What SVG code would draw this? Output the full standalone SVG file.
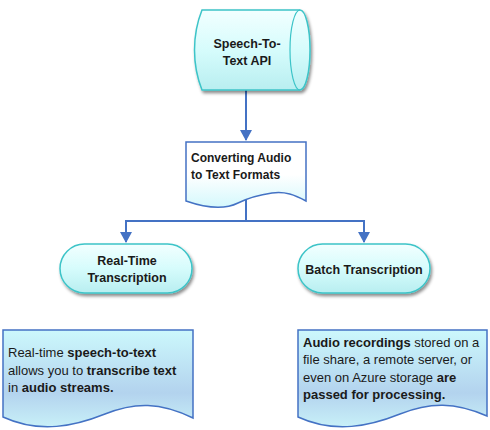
<svg xmlns="http://www.w3.org/2000/svg" width="490" height="430" viewBox="0 0 490 430">
<style>
.t{font-family:"Liberation Sans",Arial,sans-serif;fill:#1a1a1a}
.b{font-weight:bold}
.c{stroke:#4472c4;stroke-width:2;fill:none}
.doc{stroke:#4472c4;stroke-width:1.5}
.pill{fill:url(#gp);stroke:#3cc4c8;stroke-width:1.5}
</style>
<defs>
<linearGradient id="gd" x1="0" y1="0" x2="0" y2="1">
<stop offset="0" stop-color="#ffffff"/><stop offset="0.5" stop-color="#ffffff"/><stop offset="1" stop-color="#d4f8fc"/>
</linearGradient>
<linearGradient id="gb" x1="0" y1="0" x2="0" y2="1">
<stop offset="0" stop-color="#ccf8fc"/><stop offset="0.65" stop-color="#b3d3ee"/><stop offset="1" stop-color="#c8f0f8"/>
</linearGradient>
<linearGradient id="gp" x1="0" y1="0" x2="0" y2="1">
<stop offset="0" stop-color="#f2ffff"/><stop offset="0.5" stop-color="#d6fcfc"/><stop offset="1" stop-color="#b8eef0"/>
</linearGradient>
<filter id="sh" x="-20%" y="-20%" width="140%" height="150%">
<feDropShadow dx="1.5" dy="2.5" stdDeviation="1.5" flood-color="#000" flood-opacity="0.45"/>
</filter>
<marker id="ah" markerWidth="12" markerHeight="12" refX="10" refY="6" orient="auto" markerUnits="userSpaceOnUse">
<path d="M0,0 L11,6 L0,12 Z" fill="#4472c4"/>
</marker>
</defs>
<g id="connectors">
<path class="c" d="M246,90 V140" marker-end="url(#ah)"/>
<path class="c" d="M246,197 V221 H126 V242" marker-end="url(#ah)"/>
<path class="c" d="M246,221 H364 V242" marker-end="url(#ah)"/>
</g>
<g id="api">
<path d="M202,10 H300 A10,40 0 0 1 300,90 H202 C192,65 192,35 202,10 Z" fill="url(#gp)" stroke="#3cc4c8" stroke-width="1.5" filter="url(#sh)"/>
<path d="M300,10 A10,40 0 0 0 300,90" fill="none" stroke="#3cc4c8" stroke-width="1.2"/>
<text class="t b" font-size="12.5" x="247" y="48" text-anchor="middle">Speech-To-</text>
<text class="t b" font-size="12.5" x="247" y="65" text-anchor="middle">Text API</text>
</g>
<g id="convert">
<path class="doc" fill="url(#gd)" d="M186,142 H306 V201 C295,195 285,191 272,193 C258,195 248,198 238,203 C228,208 212,210 186,201 Z"/>
<text class="t b" font-size="12" x="191" y="162">Converting Audio</text>
<text class="t b" font-size="12" x="191" y="179">to Text Formats</text>
</g>
<g id="realtime">
<rect class="pill" x="60" y="244" width="132" height="49" rx="24.5" filter="url(#sh)"/>
<text class="t b" font-size="12.5" x="127" y="265" text-anchor="middle">Real-Time</text>
<text class="t b" font-size="12.5" x="127" y="282" text-anchor="middle">Transcription</text>
</g>
<g id="batch">
<rect class="pill" x="298" y="244" width="132" height="49" rx="24.5" filter="url(#sh)"/>
<text class="t b" font-size="12.5" x="364" y="274" text-anchor="middle">Batch Transcription</text>
</g>
<g id="realtime-desc">
<path class="doc" fill="url(#gb)" d="M3,330 H193 V418 C160,402 135,402 105,414 C75,426 40,434 3,417 Z"/>
<text class="t" font-size="13" x="8" y="357">Real-time <tspan class="b">speech-to-text</tspan></text>
<text class="t" font-size="13" x="8" y="375">allows you to <tspan class="b">transcribe text</tspan></text>
<text class="t" font-size="13" x="8" y="392">in <tspan class="b">audio streams.</tspan></text>
</g>
<g id="batch-desc">
<path class="doc" fill="url(#gb)" d="M298,330 H487 V416 C455,402 430,402 400,414 C370,426 335,434 298,417 Z"/>
<text class="t" font-size="13" x="303" y="347"><tspan class="b">Audio recordings</tspan> stored on a</text>
<text class="t" font-size="13" x="303" y="364">file share, a remote server, or</text>
<text class="t" font-size="13" x="303" y="382">even on Azure storage <tspan class="b">are</tspan></text>
<text class="t" font-size="13" x="303" y="399"><tspan class="b">passed for processing.</tspan></text>
</g>
</svg>
